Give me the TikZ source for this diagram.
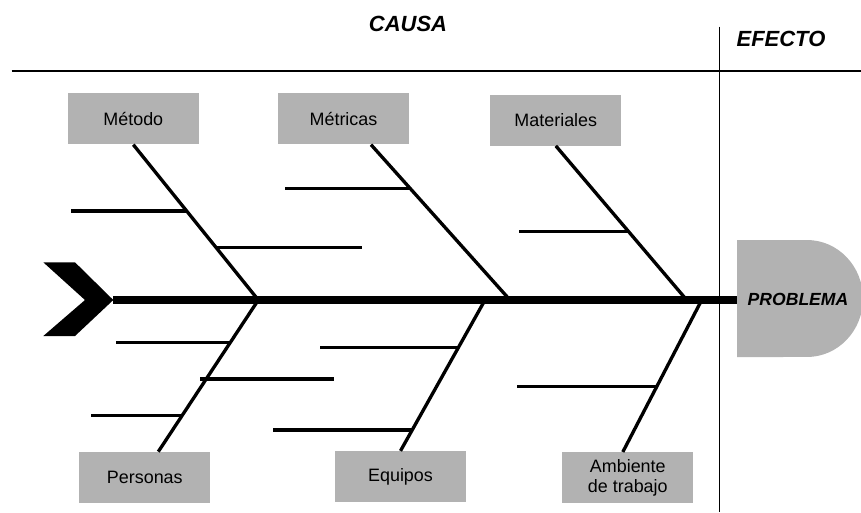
\documentclass[tikz,border=0pt]{standalone}
\usepackage{fontspec}
\setmainfont{Liberation Sans}
\definecolor{boxgray}{RGB}{178,178,178}

\begin{document}
\begin{tikzpicture}[x=0.02cm,y=-0.02cm,
        cause/.style={fill=boxgray, minimum width=2.62cm, minimum height=1.02cm, inner sep=0pt, align=center, font=\fontsize{10.2}{11.5}\selectfont},
        bone/.style={line width=1.9pt},
        rib/.style={line width=1.9pt},
        spine/.style={line width=4.7pt},
        frame/.style={line width=0.7pt},
        heading/.style={font=\fontsize{12.5}{14}\selectfont\bfseries\itshape}]
        \useasboundingbox (0,0) rectangle (861,512);

        %Frame
        \coordinate (L) at (11.7,71);
        \coordinate (R) at (861,71);
        \coordinate (T) at (719.3,26.7);
        \coordinate (B) at (719.3,512);
        \draw[frame] (L) -- (R);
        \draw[frame] (T) -- (B);
        \node[heading] (causa) at (408,24) {CAUSA};
        \node[heading] (efecto) at (781,38.5) {EFECTO};

        %Head
        \fill[boxgray] (737,240) -- (807,240) arc[start angle=90, end angle=-90, x radius=1.12cm, y radius=1.17cm] -- (737,357) -- cycle;
        \node[font=\fontsize{10}{12}\selectfont\bfseries\itshape] (problema) at (798,299) {PROBLEMA};

        %Tail and spine
        \fill (43.3,262.3) -- (75,262.3) -- (113.3,300) coordinate (tail) -- (75,336) -- (43.3,336) -- (85,300) -- cycle;
        \coordinate (head) at (737,300);
        \draw[spine] (tail) -- (head);
        \coordinate (j1) at (258.3,300);
        \coordinate (j2) at (510,300);
        \coordinate (j3) at (686.7,300);
        \coordinate (k2) at (485,300);
        \coordinate (k3) at (701.7,300);

        %Causes
        \node[cause] (metodo) at (133.3,118.8) {Método};
        \node[cause] (metricas) at (343.5,118.8) {Métricas};
        \node[cause] (materiales) at (555.8,120) {Materiales};
        \node[cause] (personas) at (144.8,477.5) {Personas};
        \node[cause] (equipos) at (400.5,476.7) {Equipos};
        \node[cause] (ambiente) at (627.8,477.8) {Ambiente\\de trabajo};

        %Bones
        \draw[bone] (metodo.south) -- (j1) coordinate[pos=0.426] (m1) coordinate[pos=0.661] (m2);
        \draw[bone] ([xshift=0.55cm]metricas.south) -- (j2) coordinate[pos=0.283] (t1);
        \draw[bone] (materiales.south) -- (j3) coordinate[pos=0.557] (a1);
        \draw[bone] (j1) -- ([xshift=0.27cm]personas.north) coordinate[pos=0.279] (p1) coordinate[pos=0.521] (p2) coordinate[pos=0.763] (p3);
        \draw[bone] (k2) -- (equipos.north) coordinate[pos=0.316] (e1) coordinate[pos=0.861] (e2);
        \draw[bone] (k3) -- ([xshift=-0.1cm]ambiente.north) coordinate[pos=0.567] (b1);

        %Ribs
        \draw[rib] (m1) -- ++(-116,0);
        \draw[rib] (m2) -- ++(146,0);
        \draw[rib] (t1) -- ++(-125,0);
        \draw[rib] (a1) -- ++(-110,0);
        \draw[rib] (p1) -- ++(-114,0);
        \draw[rib] ([xshift=-0.12cm]p2) -- ++(134,0);
        \draw[rib] (p3) -- ++(-91,0);
        \draw[rib] (e1) -- ++(-138,0);
        \draw[rib] (e2) -- ++(-139,0);
        \draw[rib] (b1) -- ++(-140,0);
    \end{tikzpicture}
\end{document}
